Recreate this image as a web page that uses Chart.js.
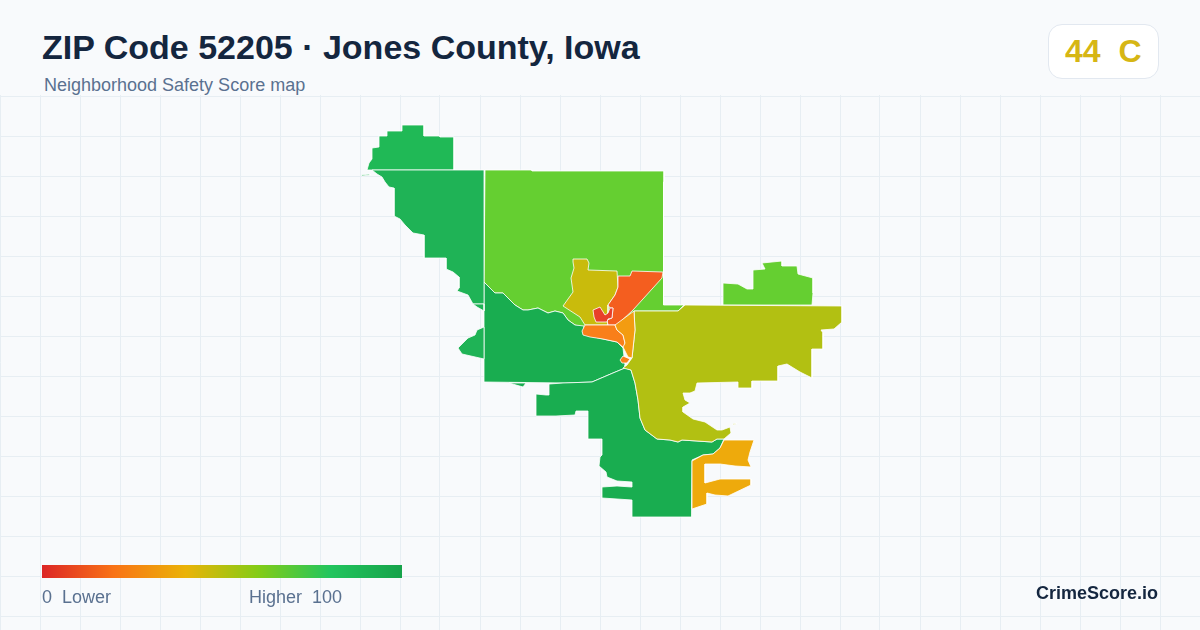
<!DOCTYPE html>
<html><head><meta charset="utf-8">
<script src="https://cdn.jsdelivr.net/npm/chart.js@4/dist/chart.umd.min.js"></script>
<style>
html,body{margin:0;padding:0;width:1200px;height:630px;overflow:hidden;background:#f8fafc;font-family:"Liberation Sans",Arial,sans-serif}
.t{position:absolute;white-space:pre;line-height:1}
#wrap{position:absolute;left:0;top:95px;width:1200px;height:535px}
#title{left:42px;top:30px;font-size:34px;font-weight:700;color:#14263f}
#sub{left:44px;top:76px;font-size:18px;color:#5a7190}
#badge{position:absolute;left:1048px;top:24px;width:109px;height:53px;background:#fff;border:1px solid #e2e8f0;border-radius:14px}
#score{left:1065px;top:35px;font-size:32px;font-weight:700;color:#d6b614}
#ramp{position:absolute;left:42px;top:565px;width:360px;height:13px;background:linear-gradient(90deg,#dc2626 0%,#f97316 20%,#eab308 40%,#84cc16 60%,#22c55e 80%,#16a34a 100%)}
#lo{left:42px;top:588px;font-size:18px;color:#5a7190}
#hi{left:249px;top:588px;font-size:18px;color:#5a7190}
#brand{left:1036px;top:584px;font-size:18px;font-weight:700;color:#14263f}
</style></head><body>
<div id="wrap"><canvas id="c" width="1200" height="535"></canvas></div>
<div class="t" id="title">ZIP Code 52205 · Jones County, Iowa</div>
<div class="t" id="sub">Neighborhood Safety Score map</div>
<div id="badge"></div><div class="t" id="score">44  C</div>
<div id="ramp"></div>
<div class="t" id="lo">0  Lower</div><div class="t" id="hi">Higher  100</div>
<div class="t" id="brand">CrimeScore.io</div>
<script>
// Map outlines (flat x,y lists in map units)
const northwestCap=[367,170,369,163,372,159,372,148,379,147,379,136,387,136,387,131,402,131,402,125,424,125,424,136,440,136,440,137,454,137,454,170];
const northwestSliver=[361,175,370,174,370,175,362,176];
const northwest=[372,170,377,174,382,177,385,182,389,187,394,188,394,216,400,219,405,225,413,233,424,235,424,258,446,258,446,269,453,272,459,277,459,288,457,291,468,295,473,304,484,304,484,170];
const westNotch=[473,304,484,304,484,311,477,307];
const westLobe=[484,327,477,330,475,335,468,338,458,348,462,354,484,359];
const north=[485,170,532,170,532,171,664,171,664,182,663.5,182,663.5,305,684,305,678,311,634,311,628,320,585,328,575,325,568,320,563,313,555,311,548,313,538,308,528,310,523,310,515,305,508,298,503,293,495,293,484,282];
const northeast=[723,283,738,284,747,289,753,289,753,270,765,269,762,263,782,261,782,266,797,266,798,274,813,278,813,293,812,305,723,305];
const central=[484,282,495,293,503,293,508,298,515,305,523,310,528,310,538,308,548,313,555,311,563,313,568,320,575,325,584,326,583,333,590,336,603,339,617,342,623,348,625,365,625,368,613,373,592,382,565,383,484,382];
const south=[631,370,635,383,638,400,640,418,645,430,657,439,670,440,678,442,682,440,697,441,712,442,717,439,724,439,720,448,713,454,703,455,692,460,691.5,517,632,517,632,500,602,498,602,487,617,486,632,487,632,482,617,481,607,477,606,472,599,466,600,457,602,455,602,439,588,439,588,411,576,411,575,415,556,416,536,416,536,394,546,395,549,395,549,384,563,383,592,382,613,373,625,368];
const southSliver=[509,383,523,387,526,383];
const east=[634,311,678,311,685,305,842,306,842,322,834,329,821,330,823,333,823,349,812,349,812,378,800,372,787,364,778,366,778,381,752,381,752,388,738,388,738,382,697,383,695,391,690,393,683,393,685,400,690,403,683,407,683,412,693,419,705,422,717,430,722,430,730,427,731,433,724,439,717,439,712,442,697,441,682,440,678,442,670,440,657,439,645,430,640,418,638,400,635,383,631,370,623,368,627,365,632,358,635,330];
const eastSpeck=[733,424,736,423,736,424,733,425];
const southeast=[724,440,754,440,750,452,748,460,751,467,735,466,720,464,705,464,705,483,720,479,751,479,751,485,728,496,715,495,707,493,707,504,692,509,692,461,703,455,713,454,720,448];
const upperCore=[573,259,587,259,589,263,588,270,617,271,618,287,615,295,608,305,608,325,595,325,585,325,580,317,563,306,573,292,571,278,574,268,573,262];
const neWedge=[632,271,663,272,662,278,633,310,617,325,608,325,607,320,612,318,613,308,610,308,608,305,615,295,618,287,618,276,630,276];
const redCore=[593,310,600,307,605,315,608,313,610,308,613,308,612,318,608,319,607,322,596,322,594,317];
const riverBend=[585,325,615,325,617,330,623,335,625,343,624,348,617,342,603,339,590,337,583,335,582,331];
const riverEast=[634,311,635,330,632,358,628,357,623,347,625,343,623,335,617,330,615,325];
const riverTip=[620,360,623,356,630,359,627,363,622,363];

// Region fills, drawn in this order (back to front)
const regions=[north,northeast,central,south,southSliver,northwestCap,northwestSliver,northwest,westNotch,westLobe,east,eastSpeck,southeast,upperCore,neWedge,redCore,riverBend,riverEast,riverTip];
const fills=['#65cf31','#65cf31','#19ad50','#19ad50','#19ad50','#20b956','#1fb356','#1fb356','#1fb356','#1fb356','#b2c012','#b2c012','#eeaa0c','#c9bb0c','#f45e1f','#e8402a','#f97f1a','#f39c11','#f97f1a'];

const xTicks=[];for(let v=0;v<=1200;v+=40)xTicks.push(v);
const yTicks=[];for(let v=96;v<=630;v+=40)yTicks.push(v);
const ring=f=>{const p=[];for(let i=0;i<f.length;i+=2)p.push({x:f[i],y:f[i+1]});p.push({x:f[0],y:f[1]});return p;};

const polygonFill={id:'polygonFill',beforeDatasetDraw(chart,args){
  const pts=args.meta.data,ctx=chart.ctx;
  ctx.save();ctx.beginPath();
  pts.forEach((p,i)=>i?ctx.lineTo(p.x,p.y):ctx.moveTo(p.x,p.y));
  ctx.closePath();ctx.fillStyle=chart.data.datasets[args.index].backgroundColor;ctx.fill();ctx.restore();
}};

new Chart(document.getElementById('c'),{
  type:'scatter',
  plugins:[polygonFill],
  data:{datasets:regions.map((r,i)=>({data:ring(r),showLine:true,fill:false,backgroundColor:fills[i],borderColor:'#ffffff',borderWidth:0.8,pointRadius:0,order:regions.length-i}))},
  options:{responsive:false,animation:false,events:[],layout:{padding:0},
    plugins:{legend:{display:false},tooltip:{enabled:false},title:{display:false}},
    scales:{
      x:{type:'linear',min:0,max:1200,afterBuildTicks:s=>{s.ticks=xTicks.map(value=>({value}))},ticks:{display:false},border:{display:false},grid:{color:'#e7eef3',lineWidth:1,drawTicks:false}},
      y:{type:'linear',min:95,max:630,reverse:true,afterBuildTicks:s=>{s.ticks=yTicks.map(value=>({value}))},ticks:{display:false},border:{display:false},grid:{color:'#e7eef3',lineWidth:1,drawTicks:false}}
    }}
});
</script>
</body></html>
